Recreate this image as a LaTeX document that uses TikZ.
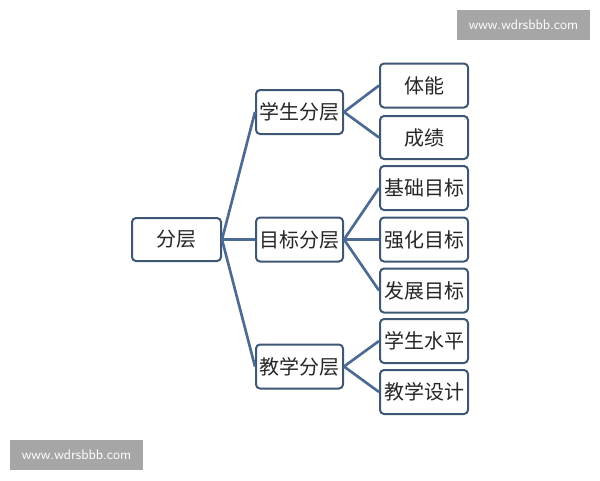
\documentclass[tikz,border=0pt]{standalone}
\usepackage{fontspec}
\newfontfamily\cjk{Noto Sans CJK SC}
\begin{document}
\begin{tikzpicture}[x=0.75pt,y=-0.75pt,
  box/.style={draw=boxc,line width=1.5pt,rounded corners=3pt,fill=white,inner sep=0pt,font=\cjk\fontsize{15}{15}\selectfont,text=black!85},
  link/.style={draw=linkc,line width=2pt},
  wm/.style={fill=black!35,inner sep=0pt,text=white,font=\sffamily\fontsize{10.5}{10.5}\selectfont,minimum width=133*0.75pt,minimum height=30*0.75pt}]
\definecolor{boxc}{HTML}{3E5775}
\definecolor{linkc}{HTML}{4D6B92}
\useasboundingbox (0,0) rectangle (600,480);
% watermarks
\node[wm] (wm1) at (523.5,25) {www.wdrsbbb.com};
\node[wm] (wm2) at (76.5,455) {www.wdrsbbb.com};
% nodes
\node[box,minimum width=89*0.75pt,minimum height=43*0.75pt] (root) at (176.5,239.5) {分层};
\node[box,minimum width=87*0.75pt,minimum height=44*0.75pt] (m1) at (299.5,112) {学生分层};
\node[box,minimum width=87*0.75pt,minimum height=44*0.75pt] (m2) at (299.5,239.5) {目标分层};
\node[box,minimum width=87*0.75pt,minimum height=44*0.75pt] (m3) at (299.5,366.5) {教学分层};
\node[box,minimum width=88*0.75pt,minimum height=44*0.75pt] (l1) at (424,85.5) {体能};
\node[box,minimum width=88*0.75pt,minimum height=43*0.75pt] (l2) at (424,137.5) {成绩};
\node[box,minimum width=88*0.75pt,minimum height=44*0.75pt] (l3) at (424,188) {基础目标};
\node[box,minimum width=88*0.75pt,minimum height=44*0.75pt] (l4) at (424,239.5) {强化目标};
\node[box,minimum width=88*0.75pt,minimum height=44*0.75pt] (l5) at (424,290.5) {发展目标};
\node[box,minimum width=88*0.75pt,minimum height=44*0.75pt] (l6) at (424,341) {学生水平};
\node[box,minimum width=88*0.75pt,minimum height=44*0.75pt] (l7) at (424,392) {教学设计};
% links
\draw[link] (root.east) -- (m1.west);
\draw[link] (root.east) -- (m2.west);
\draw[link] (root.east) -- (m3.west);
\draw[link] (m1.east) -- (l1.west);
\draw[link] (m1.east) -- (l2.west);
\draw[link] (m2.east) -- (l3.west);
\draw[link] (m2.east) -- (l4.west);
\draw[link] (m2.east) -- (l5.west);
\draw[link] (m3.east) -- (l6.west);
\draw[link] (m3.east) -- (l7.west);
\end{tikzpicture}
\end{document}
